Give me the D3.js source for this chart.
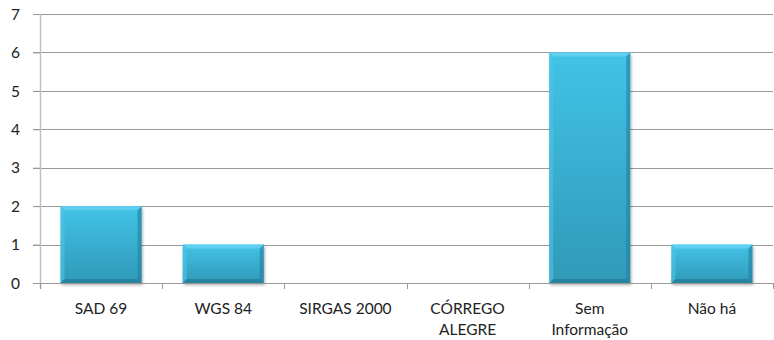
<!DOCTYPE html>
<html><head><meta charset="utf-8">
<script src="https://cdn.jsdelivr.net/npm/d3@7"></script>
<style>body{margin:0;background:#fff;}svg{display:block;}</style>
</head><body>
<svg id="c" width="774" height="340"></svg>
<script>
const categories = [["SAD 69"],["WGS 84"],["SIRGAS 2000"],["CÓRREGO","ALEGRE"],["Sem","Informação"],["Não há"]];
const values = [2,1,0,0,6,1];
const yTicks = [0,1,2,3,4,5,6,7];

(function(){
const svg = d3.select("#c");
const mLeft = 40, mRight = 773, mTop = 14, mBottom = 283;
const font = "Lato, 'Open Sans', sans-serif";

const x = d3.scaleBand().domain(d3.range(categories.length)).range([mLeft, mRight]).paddingInner(0.337).paddingOuter(0.1685);
const xs = d3.scaleBand().domain(d3.range(categories.length)).range([mLeft, mRight]).padding(0);
const y = d3.scaleLinear().domain([0,7]).range([mBottom, mTop]);

const defs = svg.append("defs");
const g = defs.append("linearGradient").attr("id","bg").attr("x1",0).attr("y1",0).attr("x2",0).attr("y2",1);
g.append("stop").attr("offset","0%").attr("stop-color","#42c3e7");
g.append("stop").attr("offset","100%").attr("stop-color","#3099b8");
const f = defs.append("filter").attr("id","sh").attr("x","-20%").attr("y","-20%").attr("width","140%").attr("height","140%");
f.append("feGaussianBlur").attr("in","SourceAlpha").attr("stdDeviation",1.5);
f.append("feOffset").attr("dx",1).attr("dy",2).attr("result","b");
f.append("feComponentTransfer").append("feFuncA").attr("type","linear").attr("slope",0.35);
const fm = f.append("feMerge"); fm.append("feMergeNode"); fm.append("feMergeNode").attr("in","SourceGraphic");

// gridlines
svg.append("g").selectAll("line").data(yTicks.filter(d=>d>0)).join("line")
  .attr("x1", mLeft-7).attr("x2", mRight).attr("y1", d=>Math.round(y(d))+0.5).attr("y2", d=>Math.round(y(d))+0.5)
  .attr("stroke","#999").attr("stroke-width",1);

// y axis
const ya = svg.append("g").attr("transform",`translate(${mLeft},0)`).call(d3.axisLeft(y).tickValues(yTicks).tickSize(7).tickFormat(d3.format("d")));
ya.select(".domain").remove();
ya.selectAll(".tick line").attr("stroke","#999");
ya.selectAll(".tick text").attr("font-family",font).attr("font-size","15.5px").attr("fill","#222").attr("x",-20).attr("dy","0.34em");
svg.append("line").attr("x1",mLeft+0.5).attr("x2",mLeft+0.5).attr("y1",mTop).attr("y2",mBottom+6).attr("stroke","#c0c0c0").attr("stroke-width",1.5);

// bars
const bars = svg.append("g");
values.forEach((v,i)=>{
  if (v<=0) return;
  const x0 = x(i), w = x.bandwidth(), y0 = y(v), h = y(0)-y(v), b = 4;
  const gg = bars.append("g");
  gg.append("rect").attr("x",x0).attr("y",y0).attr("width",w).attr("height",h).attr("fill","url(#bg)").attr("filter","url(#sh)");
  const x1 = x0+w, y1 = y0+h;
  gg.append("polygon").attr("points",`${x0},${y0} ${x1},${y0} ${x1-b},${y0+b} ${x0+b},${y0+b}`).attr("fill","#62d2ef").attr("opacity",0.9);
  gg.append("polygon").attr("points",`${x0},${y0} ${x0+b},${y0+b} ${x0+b},${y1-b} ${x0},${y1}`).attr("fill","#4cc4e6").attr("opacity",0.6);
  gg.append("polygon").attr("points",`${x1},${y0} ${x1-b},${y0+b} ${x1-b},${y1-b} ${x1},${y1}`).attr("fill","#237f9c").attr("opacity",0.6);
  gg.append("polygon").attr("points",`${x0},${y1} ${x0+b},${y1-b} ${x1-b},${y1-b} ${x1},${y1}`).attr("fill","#1f7590").attr("opacity",0.6);
});

// x axis
svg.append("line").attr("x1",mLeft).attr("x2",mRight).attr("y1",mBottom+0.5).attr("y2",mBottom+0.5).attr("stroke","#999");
svg.append("g").selectAll("line").data(d3.range(categories.length+1)).join("line")
  .attr("x1", d=> Math.round(d<categories.length? xs(d): mRight)+0.5).attr("x2", d=> Math.round(d<categories.length? xs(d): mRight)+0.5)
  .attr("y1", mBottom).attr("y2", mBottom+6).attr("stroke","#999");

const labels = svg.append("g");
categories.forEach((lines,i)=>{
  const cx = xs(i)+xs.bandwidth()/2;
  const t = labels.append("text").attr("x", cx).attr("y",314)
    .attr("text-anchor","middle").attr("font-family",font).attr("font-size","15.5px").attr("fill","#222");
  lines.forEach((l,j)=> t.append("tspan").attr("x", cx).attr("dy", j?21:0).text(l));
});
})();
</script>
</body></html>
